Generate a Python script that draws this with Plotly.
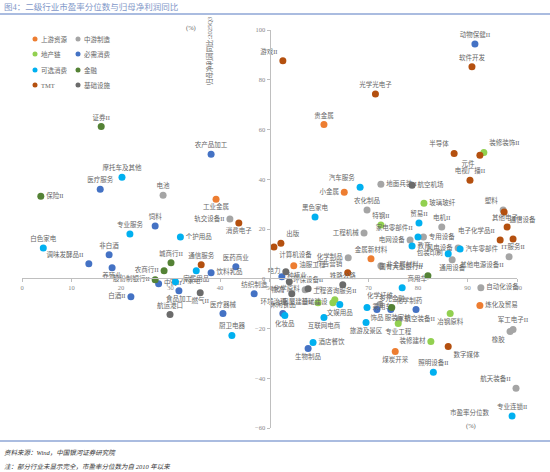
import plotly.graph_objects as go

# 市盈率分位数 (x, %) vs 归母净利润同比 2025Q3 (y, %)
upstream_names = ["贵金属", "工业金属", "小金属", "油服工程", "金属新材料", "炼化及贸易", "煤炭开采"]
upstream_x = [61.0, 39.2, 65.1, 54.9, 70.5, 92.5, 75.4]
upstream_y = [62.0, 32.0, 34.8, 5.2, 8.0, -10.8, -29.2]

midstream_names = ["电池", "轨交设备II", "地面兵装II", "农化制品", "工程机械", "电网设备", "电机II",
                   "专用设备", "风电设备", "通用设备", "其他电源设备II", "非金属材料II", "化学制品",
                   "化学原料", "化学纤维", "航空装备II", "自动化设备", "军工电子II", "橡胶",
                   "航天装备II", "塑料"]
midstream_x = [28.5, 42.0, 72.5, 69.7, 69.1, 78.4, 84.8, 81.1, 88.1, 86.9, 98.4, 72.5, 65.9,
               57.2, 72.3, 76.2, 92.7, 99.2, 98.6, 99.8, 97.2]
midstream_y = [33.6, 24.0, 38.0, 27.6, 18.4, 15.6, 20.8, 16.8, 12.4, 7.6, 8.8, 5.2, 8.4,
               -4.4, -10.4, -16.4, -3.6, -20.4, -21.2, -44.0, 27.6]

property_names = ["装修装饰II", "玻璃玻纤", "特钢II", "房屋建设II", "基础建设", "工程咨询服务II",
                  "专业工程", "装修建材", "冶钢原料"]
property_x = [93.3, 81.2, 72.5, 59.8, 62.8, 63.2, 76.0, 82.6, 86.5]
property_y = [50.8, 30.4, 21.6, -9.6, -9.6, -8.4, -18.0, -25.2, -14.0]

staples_names = ["动物保健II", "农产品加工", "医疗服务", "饲料", "非白酒", "调味发酵品II", "养殖业",
                 "饮料乳品", "医药商业", "中药II", "食品加工", "白酒II", "纺织制造", "医疗器械",
                 "种植业", "休闲食品", "生物制品", "饰品", "化学制药", "服装家纺"]
staples_x = [91.5, 38.2, 15.8, 26.9, 17.6, 13.5, 18.2, 38.2, 43.2, 27.6, 31.7, 22.0, 46.9, 40.6,
             52.5, 52.7, 57.8, 71.7, 74.5, 79.6]
staples_y = [94.4, 50.0, 36.0, 21.2, 9.6, 6.0, 4.4, 2.4, 4.8, -2.0, -4.8, -7.2, -6.0, -14.0,
             0.8, -14.0, -28.0, -12.4, -12.4, -12.4]

discretionary_names = ["摩托车及其他", "专业服务", "个护用品", "白色家电", "家居用品", "小家电",
                       "厨卫电器", "汽车服务", "黑色家电", "贸易II", "家电零部件II", "教育",
                       "包装印刷", "汽车零部件", "化妆品", "文娱用品", "互联网电商", "旅游及景区",
                       "酒店餐饮", "乘用车", "商用车", "照明设备II", "专业连锁II"]
discretionary_x = [20.2, 21.8, 32.0, 4.3, 35.2, 31.0, 42.4, 68.3, 59.2, 80.2, 80.0, 78.8,
                   86.1, 88.5, 53.1, 64.2, 61.0, 69.5, 58.8, 69.7, 76.8, 83.1, 99.0]
discretionary_y = [40.8, 18.0, 16.8, 12.4, 3.2, -1.2, -22.8, 36.8, 24.8, 22.4, 16.8, 13.2,
                   10.0, 12.0, -14.8, -10.4, -15.6, -17.6, -25.6, -11.6, -3.6, -37.6, -55.2]

finance_names = ["证券II", "保险II", "城商行II", "农商行II", "股份制银行II", "国有大型银行II", "多元金融"]
finance_x = [16.0, 3.8, 30.1, 28.7, 26.9, 82.0, 74.7]
finance_y = [61.2, 33.2, 6.4, 3.2, -0.4, 1.2, -11.6]

tmt_names = ["游戏II", "软件开发", "光学光电子", "半导体", "元件", "电视广播II", "通信设备",
             "其他电子II", "电子化学品II", "IT服务II", "消费电子", "通信服务", "出版",
             "计算机设备", "广告营销", "数字媒体"]
tmt_x = [52.7, 90.9, 71.4, 87.3, 92.5, 90.5, 97.4, 98.0, 96.6, 99.2, 43.8, 36.2, 52.3, 50.9, 65.8, 86.1]
tmt_y = [87.6, 85.2, 74.3, 50.4, 49.6, 39.6, 26.8, 20.8, 15.6, 16.0, 22.4, 5.6, 14.3, 12.8, 2.4, -27.2]

infra_names = ["航空机场", "燃气II", "航运港口", "电力", "物流", "环境治理", "环保设备II", "铁路公路"]
infra_x = [78.8, 36.0, 29.9, 53.3, 54.0, 54.5, 57.8, 64.8]
infra_y = [37.6, -5.6, -14.4, 2.8, -1.2, -6.0, -4.0, -2.4]

x_ticks = list(range(0, 101, 10))
y_ticks = list(range(-60, 101, 20))

# label placement (default: top center)
LABEL_POS = {
    "小金属": "middle left", "油服工程": "middle right", "工业金属": "bottom center",
    "炼化及贸易": "middle right", "煤炭开采": "bottom center",
    "轨交设备II": "middle left", "地面兵装II": "middle right", "工程机械": "middle left",
    "电网设备": "middle left", "专用设备": "middle right", "风电设备": "middle left",
    "通用设备": "bottom center", "其他电源设备II": "bottom left", "非金属材料II": "middle right",
    "化学制品": "middle left", "化学原料": "middle left", "航空装备II": "middle right",
    "自动化设备": "middle right", "橡胶": "bottom left", "塑料": "top left", "航天装备II": "top left",
    "装修装饰II": "top right", "玻璃玻纤": "middle right", "房屋建设II": "middle left",
    "基础建设": "middle left", "专业工程": "bottom center", "装修建材": "middle left",
    "冶钢原料": "bottom center",
    "调味发酵品II": "top left", "养殖业": "bottom center", "饮料乳品": "middle right",
    "中药II": "middle right", "食品加工": "bottom center", "白酒II": "middle left",
    "种植业": "middle right", "生物制品": "bottom center", "饰品": "bottom center",
    "化学制药": "top right", "服装家纺": "bottom left",
    "个护用品": "middle right", "家居用品": "bottom center", "小家电": "middle right",
    "汽车服务": "top left", "家电零部件II": "top left", "教育": "middle right",
    "包装印刷": "middle left", "汽车零部件": "middle right", "化妆品": "bottom center",
    "文娱用品": "bottom center", "互联网电商": "bottom center", "旅游及景区": "bottom center",
    "酒店餐饮": "middle right", "乘用车": "middle right", "商用车": "top right",
    "保险II": "middle right", "农商行II": "middle left", "股份制银行II": "middle left",
    "国有大型银行II": "top left",
    "游戏II": "top left", "半导体": "top left", "元件": "bottom left", "通信设备": "bottom right",
    "电子化学品II": "top left", "IT服务II": "bottom center", "消费电子": "bottom center",
    "出版": "top right", "计算机设备": "bottom right", "广告营销": "top left",
    "数字媒体": "bottom right",
    "航空机场": "middle right", "燃气II": "bottom center", "电力": "middle left",
    "物流": "bottom left", "环境治理": "bottom left",
}

groups = [
    ("上游资源", "#ED7D31", upstream_names, upstream_x, upstream_y),
    ("中游制造", "#A5A5A5", midstream_names, midstream_x, midstream_y),
    ("地产链", "#92D050", property_names, property_x, property_y),
    ("必需消费", "#4472C4", staples_names, staples_x, staples_y),
    ("可选消费", "#00B0F0", discretionary_names, discretionary_x, discretionary_y),
    ("金融", "#548235", finance_names, finance_x, finance_y),
    ("TMT", "#B4500F", tmt_names, tmt_x, tmt_y),
    ("基础设施", "#6B6B6B", infra_names, infra_x, infra_y),
]

FONT = "Liberation Serif, Noto Sans CJK SC"
LABEL_FONT = dict(family=FONT, size=6.5, color="#666666")

# plot area in pixels (used to place paper-referenced decorations)
L, R, T, B = 22, 33, 30, 44
W, H = 550, 472


def px(xp):
    return (xp - L) / (W - L - R)


def py(yp):
    return (H - B - yp) / (H - T - B)


fig = go.Figure()

for name, color, names, xs, ys in groups:
    fig.add_trace(go.Scatter(
        x=xs, y=ys,
        mode="markers+text",
        text=names,
        textposition=[LABEL_POS.get(n, "top center") for n in names],
        textfont=LABEL_FONT,
        marker=dict(size=7, color=color),
        name=name,
        cliponaxis=False,
        showlegend=False,
        hovertemplate="%{text}<br>市盈率分位数: %{x}%<br>归母净利润同比: %{y}%<extra></extra>",
    ))

shapes = []
annotations = []

# hand-placed two-column legend
legend_slots = [(35, 39), (78, 39), (35, 54), (78, 54), (35, 70), (78, 70), (35, 85), (78, 85)]
for (name, color, *_), (lx, ly) in zip(groups, legend_slots):
    shapes.append(dict(
        type="circle", xref="paper", yref="paper",
        xsizemode="pixel", ysizemode="pixel",
        xanchor=px(lx), yanchor=py(ly),
        x0=-2.5, x1=2.5, y0=-2.5, y1=2.5,
        fillcolor=color, line=dict(width=0),
    ))
    annotations.append(dict(
        text=name, xref="paper", yref="paper", x=px(lx + 4), y=py(ly),
        xanchor="left", yanchor="middle", showarrow=False,
        font=dict(family=FONT, size=6.5, color="#666666"),
    ))

# header / footer rules
for yline in (14, 441):
    shapes.append(dict(
        type="line", xref="paper", yref="paper",
        x0=px(0), x1=px(W), y0=py(yline), y1=py(yline),
        line=dict(color="#8EA6D6", width=1.5),
    ))

annotations += [
    dict(text="图4：二级行业市盈率分位数与归母净利润同比", xref="paper", yref="paper",
         x=px(2), y=py(7), xanchor="left", yanchor="middle", showarrow=False,
         font=dict(family=FONT, size=8.5, color="#7F97C8")),
    dict(text="(%)", xref="paper", yref="paper", x=px(191), y=py(28),
         xanchor="center", yanchor="middle", showarrow=False, font=LABEL_FONT),
    dict(text="归母净利润同比:2025Q3", xref="paper", yref="paper", x=px(210), y=py(51),
         xanchor="center", yanchor="middle", textangle=-90, showarrow=False, font=LABEL_FONT),
    dict(text="市盈率分位数", xref="paper", yref="paper", x=px(470), y=py(412),
         xanchor="center", yanchor="middle", showarrow=False, font=LABEL_FONT),
    dict(text="(%)", xref="paper", yref="paper", x=px(471), y=py(426),
         xanchor="center", yanchor="middle", showarrow=False, font=LABEL_FONT),
    dict(text="<i>资料来源：Wind，中国银河证券研究院</i>", xref="paper", yref="paper",
         x=px(2), y=py(452), xanchor="left", yanchor="middle", showarrow=False,
         font=dict(family=FONT, size=6.5, color="#333333")),
    dict(text="<i>注：部分行业未显示完全，市盈率分位数为自 2010 年以来</i>", xref="paper", yref="paper",
         x=px(2), y=py(466), xanchor="left", yanchor="middle", showarrow=False,
         font=dict(family=FONT, size=6.5, color="#333333")),
]

axis_common = dict(
    showgrid=False, zeroline=False, showline=True, linecolor="#BFBFBF", linewidth=1,
    ticks="outside", ticklen=3, tickcolor="#BFBFBF",
    tickfont=dict(family=FONT, size=6.5, color="#888888"),
    anchor="free", fixedrange=True,
)

fig.update_layout(
    width=W, height=H,
    margin=dict(l=L, r=R, t=T, b=B),
    paper_bgcolor="white", plot_bgcolor="white",
    xaxis=dict(range=[0, 100], tickvals=x_ticks, position=py(278), **axis_common),
    yaxis=dict(range=[-60, 100], tickvals=y_ticks, position=0.5, **axis_common),
    shapes=shapes,
    annotations=annotations,
    showlegend=False,
)

# drop the browser's default page margin so the figure sits at the window origin
fig.write_html("out.html", config={"displayModeBar": False},
               post_script="document.body.style.margin='0';")
